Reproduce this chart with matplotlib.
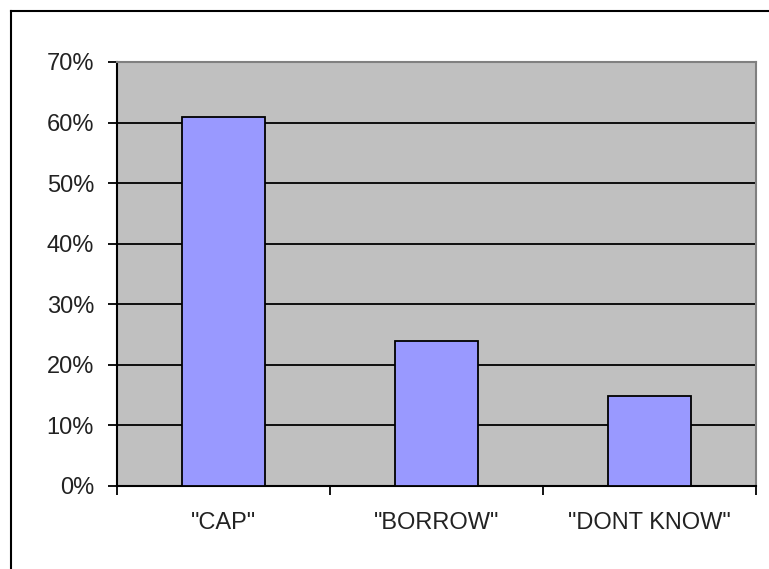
import matplotlib.pyplot as plt
import matplotlib.ticker as mticker
from matplotlib.lines import Line2D

categories = ['"CAP"', '"BORROW"', '"DONT KNOW"']
shares = [0.61, 0.24, 0.148]

plt.rcParams['font.family'] = ['Liberation Sans', 'DejaVu Sans']

fig = plt.figure(figsize=(7.69, 5.69), dpi=100)
ax = fig.add_axes([117 / 769, 1 - 486 / 569, (756 - 117) / 769, (486 - 62) / 569])

# outer chart border (only top and left are visible in the crop)
fig.add_artist(Line2D([11 / 769, 11 / 769], [1 - 11 / 569, 0], color='black', lw=1.5))
fig.add_artist(Line2D([11 / 769, 1], [1 - 11 / 569, 1 - 11 / 569], color='black', lw=1.5))

ax.set_facecolor('#C0C0C0')
ind = range(len(categories))
ax.bar(ind, shares, width=0.39, color='#9999FF', edgecolor='black', linewidth=1.3, zorder=3)

ax.set_xlim(-0.5, len(categories) - 0.5)
ax.set_ylim(0, 0.7)
ax.yaxis.set_major_locator(mticker.MultipleLocator(0.1))
ax.yaxis.set_major_formatter(mticker.PercentFormatter(1.0, decimals=0))
ax.grid(axis='y', color='black', lw=1.3, zorder=1)

ax.set_xticks([i - 0.5 for i in range(len(categories) + 1)], minor=False)
ax.set_xticklabels([])
ax.set_xticks(list(ind), minor=True)
ax.set_xticklabels(categories, minor=True)
ax.tick_params(axis='x', which='major', direction='out', length=6.5, width=1.3, color='black')
ax.tick_params(axis='x', which='minor', length=0, pad=19, labelsize=17, labelcolor='#222222')
ax.tick_params(axis='y', direction='out', length=6.5, width=1.3, pad=10, labelsize=17, labelcolor='#222222')

ax.spines['left'].set_linewidth(1.5)
ax.spines['bottom'].set_linewidth(1.5)
ax.spines['top'].set_color('#808080')
ax.spines['right'].set_color('#808080')
ax.spines['top'].set_linewidth(1.5)
ax.spines['right'].set_linewidth(1.5)

fig.savefig('out.png', dpi=100)
